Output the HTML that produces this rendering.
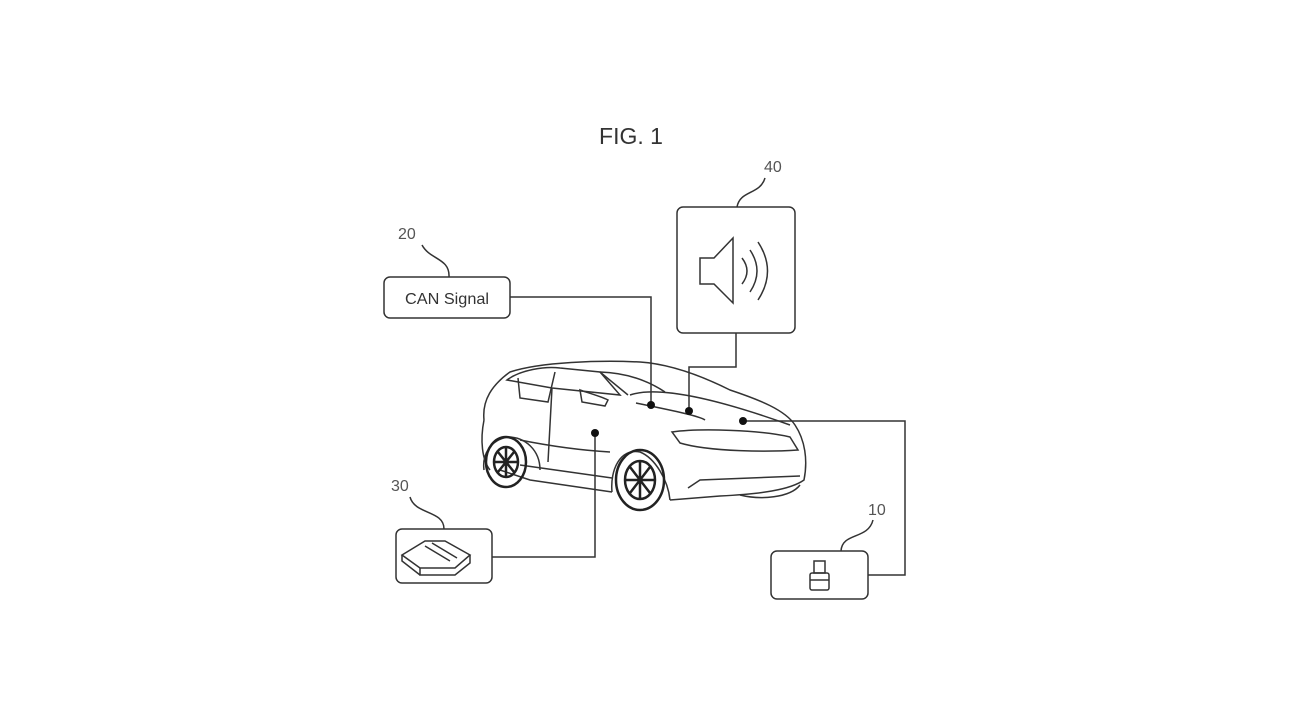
<!DOCTYPE html>
<html><head><style>body{margin:0;background:#fff}svg{display:block}</style></head>
<body>
<svg width="1290" height="726" viewBox="0 0 1290 726" xmlns="http://www.w3.org/2000/svg" font-family="Liberation Sans, sans-serif">
<rect width="1290" height="726" fill="#fff"/>
<text x="631" y="144" font-size="23" text-anchor="middle" fill="#333">FIG. 1</text>
<g fill="none" stroke="#333" stroke-width="1.5">
<rect x="384" y="277" width="126" height="41" rx="6"/>
<rect x="677" y="207" width="118" height="126" rx="6"/>
<rect x="396" y="529" width="96" height="54" rx="6"/>
<rect x="771" y="551" width="97" height="48" rx="6"/>
<path d="M422 245 C430 260,450 258,449 277"/>
<path d="M765 178 C760 195,740 190,737 207"/>
<path d="M410 497 C415 515,444 510,444 529"/>
<path d="M873 520 C868 540,842 532,841 551"/>
<path d="M510 297 H651 V405"/>
<path d="M736 333 V367 H689 V411"/>
<path d="M868 575 H905 V421 H743"/>
<path d="M492 557 H595 V433"/>
<path d="M700 258 H714 L733 238 V303 L714 284 H700 Z"/>
<path d="M742 258 Q752 271 742 284"/>
<path d="M750 250 Q764 271 750 292"/>
<path d="M758 242 Q777 271 758 300"/>
<path d="M402 555 L425 541 L445 541 L470 555 L455 568 L420 568 Z"/>
<path d="M420 568 L420 575 L455 575 L470 563 L470 555"/>
<path d="M402 555 L402 561 L420 575"/>
<path d="M425 546 L450 561 M432 543 L457 558"/>
<rect x="814" y="561" width="11" height="12"/>
<rect x="810" y="573" width="19" height="17" rx="2"/>
<path d="M810 580 H829"/>
<!-- car -->
<path d="M484 420 C482 400,492 385,510 372 C540 362,600 360,640 362 C670 364,700 375,730 390 C760 400,785 410,795 425 C805 440,808 460,804 480 C790 490,760 494,720 496 L670 500"/>
<path d="M484 420 C480 440,482 460,490 470"/>
<path d="M612 492 L530 480 L500 470"/>
<path d="M670 500 C668 480,655 458,640 452 C620 448,610 470,612 492"/>
<path d="M540 470 C540 450,525 437,508 437 C490 440,482 455,484 470"/>
<path d="M507 380 C520 370,545 366,560 368 L600 372 L620 395 L552 388 Z"/>
<path d="M518 378 L520 398 L548 402 L555 372"/>
<path d="M552 388 L548 462 M600 372 C630 373,650 382,665 392"/>
<path d="M636 403 C670 410,700 416,705 420 M630 395 C660 385,720 400,790 425"/>
<path d="M672 432 C700 428,760 430,790 437 L798 450 C770 452,710 452,680 443 Z"/>
<path d="M688 488 L700 480 L800 476"/>
<path d="M740 495 C760 500,790 498,800 485"/>
<path d="M520 440 C545 445,575 450,610 452"/>
<path d="M520 465 L612 478"/>
<path d="M580 390 C585 392,600 396,608 400 L605 406 L582 402 Z"/>
<path d="M600 372 L628 395"/>
</g>
<g fill="none" stroke="#222" stroke-width="2.5">
<ellipse cx="506" cy="462" rx="20" ry="25"/>
<ellipse cx="640" cy="480" rx="24" ry="30"/>
<ellipse cx="506" cy="462" rx="12" ry="15"/>
<ellipse cx="640" cy="480" rx="15" ry="19"/>
<path d="M506 447 V477 M494 462 H518 M498 452 L514 472 M514 452 L498 472"/>
<path d="M640 461 V499 M625 480 H655 M630 467 L650 493 M650 467 L630 493"/>
</g>
<g fill="#111">
<circle cx="651" cy="405" r="4"/><circle cx="689" cy="411" r="4"/>
<circle cx="743" cy="421" r="4"/><circle cx="595" cy="433" r="4"/>
</g>
<g font-size="16" fill="#555">
<text x="398" y="239">20</text>
<text x="764" y="172">40</text>
<text x="391" y="491">30</text>
<text x="868" y="515">10</text>
</g>
<text x="447" y="304" font-size="16" fill="#333" text-anchor="middle" textLength="84" lengthAdjust="spacingAndGlyphs">CAN Signal</text>
</svg>
</body></html>
